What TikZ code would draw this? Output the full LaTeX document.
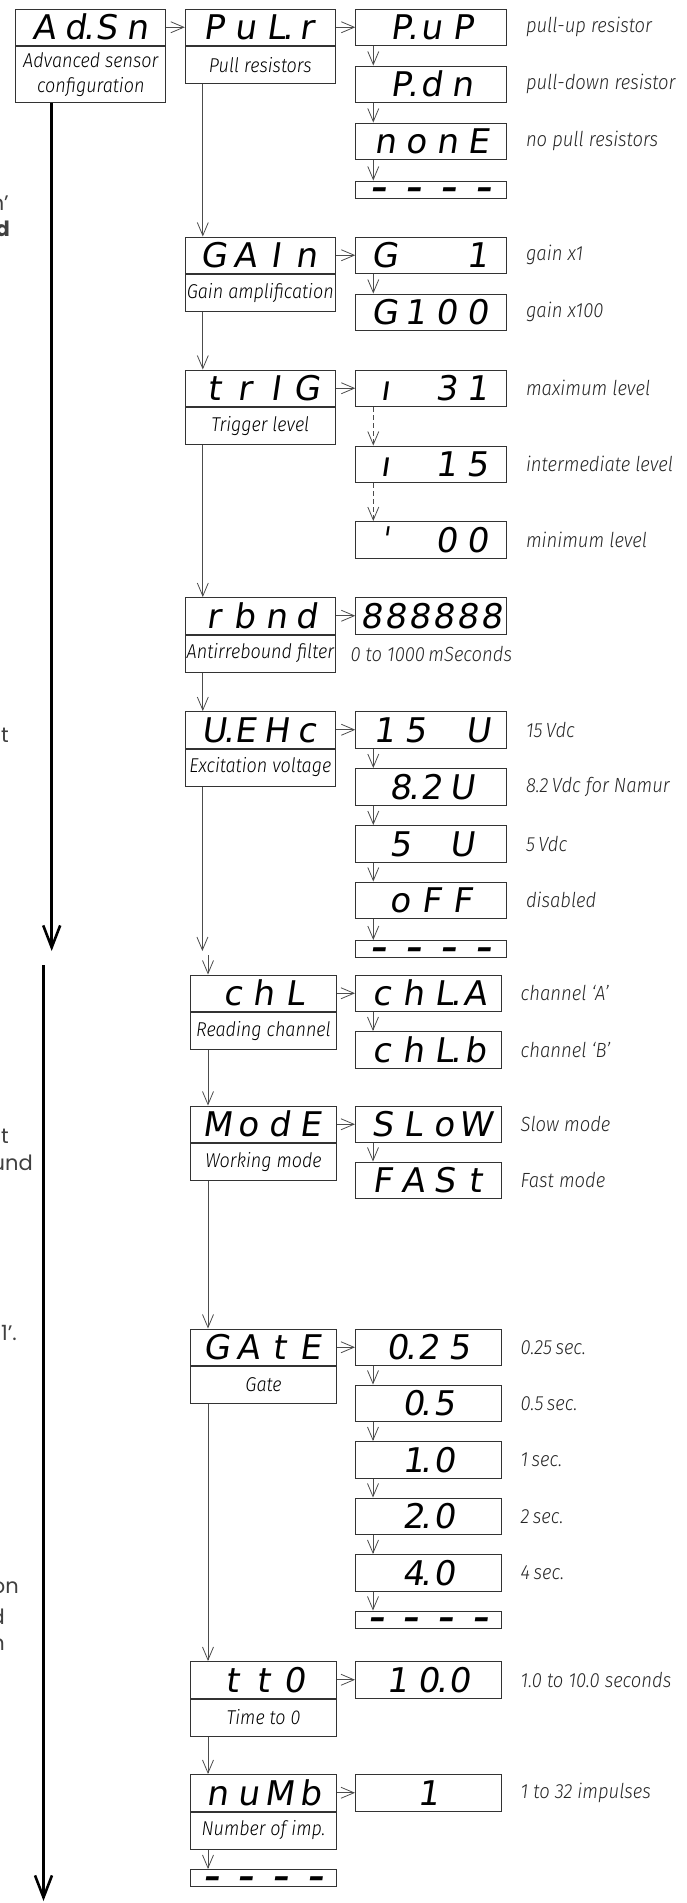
\documentclass[tikz,border=0pt]{standalone}
\usepackage{fontspec}
\usepackage{tikz}
\usetikzlibrary{arrows.meta, positioning}

\newfontfamily\segfont[FakeSlant=0.15]{DejaVu Sans}
\IfFontExistsTF{Fira Sans Light}
  {\newfontfamily\txtfont[FakeStretch=0.9]{Fira Sans Light}}
  {\newfontfamily\txtfont[FakeStretch=0.9]{Fira Sans}}
\newfontfamily\pagefont{Poppins}

\newlength{\celw}
\setlength{\celw}{31pt}
\newcommand{\cel}[1]{\makebox[\celw][c]{#1}}
\newcommand{\segdot}{\rlap{\kern-3pt.}}
\newcommand{\dashrow}{\raisebox{-9pt}{\bfseries\makebox[35pt]{\textendash}\makebox[35pt]{\textendash}\makebox[35pt]{\textendash}\makebox[35pt]{\textendash}}}

\begin{document}
\begin{tikzpicture}[
  every node/.style={inner sep=0pt},
  disp/.style={draw=black!80, line width=1pt, minimum width=150pt, minimum height=36.5pt, text height=25pt, text depth=0pt, font=\segfont\fontsize{34pt}{34pt}\selectfont},
  desc/.style={draw=black!80, line width=1pt, minimum width=150pt, minimum height=37pt, align=center, font=\txtfont\itshape\fontsize{20pt}{25pt}\selectfont},
  dashbox/.style={disp, minimum height=17pt, text height=0pt, text depth=0pt, font=\segfont\fontsize{32pt}{32pt}\selectfont},
  narrow/.style={minimum width=146pt},
  wide/.style={minimum width=151pt},
  note/.style={anchor=west, text=black!85, font=\txtfont\itshape\fontsize{20.5pt}{24pt}\selectfont},
  arr/.style={draw=black!70, line width=0.8pt, -{Straight Barb[length=13pt, width=11pt]}},
  dotarr/.style={arr, dash pattern=on 5pt off 3pt},
  bigarr/.style={line width=2.6pt, -{Straight Barb[length=22pt, width=17pt]}},
  frag/.style={anchor=east, text=black!75, font=\pagefont\fontsize{21pt}{24pt}\selectfont},
]
 \useasboundingbox (0pt,0pt) rectangle (687pt,-1903pt);

 % ---- Advanced sensor menu ----
 \node[disp, anchor=north west] (adsn) at (15.3pt,-8.5pt) {\cel{A}\cel{d\segdot}\cel{S}\cel{n}};
 \node[desc, below=0pt of adsn, minimum height=56pt] (adsnd) {Advanced sensor\\configuration};

 % ---- Pull resistors ----
 \node[disp, right=18.5pt of adsn] (pulr) {\cel{P}\cel{u}\cel{L\segdot}\cel{r}};
 \node[desc, below=0pt of pulr] (pulrd) {Pull resistors};
 \node[disp, wide, right=19.5pt of pulr] (pup) {\cel{P\segdot}\cel{u}\cel{P}};
 \node[disp, wide, below=19.5pt of pup] (pdn) {\cel{P\segdot}\cel{d}\cel{n}};
 \node[disp, wide, below=19.5pt of pdn] (none) {\cel{n}\cel{o}\cel{n}\cel{E}};
 \node[dashbox, wide, below=20.5pt of none] (pulrx) {\dashrow};
 \node[note, right=18.5pt of pup] (pupt) {pull-up resistor};
 \node[note, right=18.5pt of pdn] (pdnt) {pull-down resistor};
 \node[note, right=18.5pt of none] (nonet) {no pull resistors};

 % ---- Gain ----
 \node[disp, below=152.5pt of pulrd] (gain) {\cel{G}\cel{A}\cel{I}\cel{n}};
 \node[desc, below=0pt of gain] (gaind) {Gain amplification};
 \node[disp, wide, right=19.5pt of gain] (gx1) {\cel{G}\cel{}\cel{}\cel{1}};
 \node[disp, wide, below=19.5pt of gx1] (gx100) {\cel{G}\cel{1}\cel{0}\cel{0}};
 \node[note, right=18.5pt of gx1] (gx1t) {gain x1};
 \node[note, right=18.5pt of gx100] (gx100t) {gain x100};

 % ---- Trigger level ----
 \node[disp, below=57.5pt of gaind] (trig) {\cel{t}\cel{r}\cel{I}\cel{G}};
 \node[desc, below=0pt of trig] (trigd) {Trigger level};
 \node[disp, wide, right=19.5pt of trig] (lv31) {\cel{ı}\cel{}\cel{3}\cel{1}};
 \node[disp, wide, below=38.5pt of lv31] (lv15) {\cel{ı}\cel{}\cel{1}\cel{5}};
 \node[disp, wide, below=38pt of lv15] (lv00) {\cel{ˈ}\cel{}\cel{0}\cel{0}};
 \node[note, right=18.5pt of lv31] (lv31t) {maximum level};
 \node[note, right=18.5pt of lv15] (lv15t) {intermediate level};
 \node[note, right=18.5pt of lv00] (lv00t) {minimum level};

 % ---- Antirrebound ----
 \node[disp, below=152pt of trigd] (rbnd) {\cel{r}\cel{b}\cel{n}\cel{d}};
 \node[desc, below=0pt of rbnd] (rbndd) {Antirrebound filter};
 \node[disp, wide, right=19.5pt of rbnd] (rbval) {\makebox[24pt]{8}\makebox[24pt]{8}\makebox[24pt]{8}\makebox[24pt]{8}\makebox[24pt]{8}\makebox[24pt]{8}};
 \node[note, anchor=north, below=12pt of rbval] (rbvalt) {0 to 1000\,mSeconds};

 % ---- Excitation voltage ----
 \node[disp, below=38.5pt of rbndd] (uehc) {\cel{U\segdot}\cel{E}\cel{H}\cel{c}};
 \node[desc, below=0pt of uehc] (uehcd) {Excitation voltage};
 \node[disp, wide, right=19.5pt of uehc] (v15) {\cel{1}\cel{5}\cel{}\cel{U}};
 \node[disp, wide, below=19.5pt of v15] (v82) {\cel{8\segdot}\cel{2}\cel{U}};
 \node[disp, wide, below=19.5pt of v82] (v5) {\cel{5}\cel{}\cel{U}};
 \node[disp, wide, below=19pt of v5] (voff) {\cel{o}\cel{F}\cel{F}};
 \node[dashbox, wide, below=21pt of voff] (uehcx) {\dashrow};
 \node[note, right=18.5pt of v15] (v15t) {15\,Vdc};
 \node[note, right=18.5pt of v82] (v82t) {8.2\,Vdc for Namur};
 \node[note, right=18.5pt of v5] (v5t) {5\,Vdc};
 \node[note, right=18.5pt of voff] (vofft) {disabled};

 % ---- Reading channel ----
 \node[disp, narrow, anchor=north west] (chl) at (190pt,-974.5pt) {\cel{c}\cel{h}\cel{L}};
 \node[desc, narrow, below=0pt of chl] (chld) {Reading channel};
 \node[disp, narrow, right=18pt of chl] (chla) {\cel{c}\cel{h}\cel{L\segdot}\cel{A}};
 \node[disp, narrow, below=19pt of chla] (chlb) {\cel{c}\cel{h}\cel{L\segdot}\cel{b}};
 \node[note, right=18.5pt of chla] (chlat) {channel ‘A’};
 \node[note, right=18.5pt of chlb] (chlbt) {channel ‘B’};

 % ---- Working mode ----
 \node[disp, narrow, below=55.5pt of chld] (mode) {\cel{M}\cel{o}\cel{d}\cel{E}};
 \node[desc, narrow, below=0pt of mode] (moded) {Working mode};
 \node[disp, narrow, right=18pt of mode] (slow) {\cel{S}\cel{L}\cel{o}\cel{W}};
 \node[disp, narrow, below=18.5pt of slow] (fast) {\cel{F}\cel{A}\cel{S}\cel{t}};
 \node[note, right=18.5pt of slow] (slowt) {Slow mode};
 \node[note, right=18.5pt of fast] (fastt) {Fast mode};

 % ---- Gate ----
 \node[disp, narrow, below=147.5pt of moded] (gate) {\cel{G}\cel{A}\cel{t}\cel{E}};
 \node[desc, narrow, below=0pt of gate] (gated) {Gate};
 \node[disp, narrow, right=18pt of gate] (g025) {\cel{0\segdot}\cel{2}\cel{5}};
 \node[disp, narrow, below=18.5pt of g025] (g05) {\cel{0\segdot}\cel{5}};
 \node[disp, narrow, below=19pt of g05] (g10) {\cel{1\segdot}\cel{0}};
 \node[disp, narrow, below=19pt of g10] (g20) {\cel{2\segdot}\cel{0}};
 \node[disp, narrow, below=19pt of g20] (g40) {\cel{4\segdot}\cel{0}};
 \node[dashbox, narrow, below=19pt of g40] (gatex) {\dashrow};
 \node[note, right=18.5pt of g025] (g025t) {0.25\,sec.};
 \node[note, right=18.5pt of g05] (g05t) {0.5\,sec.};
 \node[note, right=18.5pt of g10] (g10t) {1\,sec.};
 \node[note, right=18.5pt of g20] (g20t) {2\,sec.};
 \node[note, right=18.5pt of g40] (g40t) {4\,sec.};

 % ---- Time to 0 ----
 \node[disp, narrow, below=257pt of gated] (tt0) {\cel{t}\cel{t}\cel{0}};
 \node[desc, narrow, below=0pt of tt0] (tt0d) {Time to 0};
 \node[disp, narrow, right=18pt of tt0] (tt0v) {\cel{1}\cel{0\segdot}\cel{0}};
 \node[note, right=18.5pt of tt0v] (tt0vt) {1.0 to 10.0 seconds};

 % ---- Number of impulses ----
 \node[disp, narrow, below=37.5pt of tt0d] (numb) {\cel{n}\cel{u}\cel{M}\cel{b}};
 \node[desc, narrow, below=0pt of numb] (numbd) {Number of imp.};
 \node[disp, narrow, right=18pt of numb] (numbv) {\cel{1}};
 \node[note, right=18.5pt of numbv] (numbvt) {1 to 32 impulses};
 \node[dashbox, narrow, below=19.5pt of numbd] (numbx) {\dashrow};

 % ---- horizontal arrows ----
 \draw[arr] (adsn.east) -- (pulr.west);
 \draw[arr] (pulr.east) -- (pup.west);
 \draw[arr] (gain.east) -- (gx1.west);
 \draw[arr] (trig.east) -- (lv31.west);
 \draw[arr] (rbnd.east) -- (rbval.west);
 \draw[arr] (uehc.east) -- (v15.west);
 \draw[arr] (chl.east) -- (chla.west);
 \draw[arr] (mode.east) -- (slow.west);
 \draw[arr] (gate.east) -- (g025.west);
 \draw[arr] (tt0.east) -- (tt0v.west);
 \draw[arr] (numb.east) -- (numbv.west);

 % ---- option lists ----
 \draw[arr] ([xshift=18pt]pup.south west) -- ([xshift=18pt]pdn.north west);
 \draw[arr] ([xshift=18pt]pdn.south west) -- ([xshift=18pt]none.north west);
 \draw[arr] ([xshift=18pt]none.south west) -- ([xshift=18pt]pulrx.north west);
 \draw[arr] ([xshift=18pt]gx1.south west) -- ([xshift=18pt]gx100.north west);
 \draw[dotarr] ([xshift=18pt]lv31.south west) -- ([xshift=18pt]lv15.north west);
 \draw[dotarr] ([xshift=18pt]lv15.south west) -- ([xshift=18pt]lv00.north west);
 \draw[arr] ([xshift=18pt]v15.south west) -- ([xshift=18pt]v82.north west);
 \draw[arr] ([xshift=18pt]v82.south west) -- ([xshift=18pt]v5.north west);
 \draw[arr] ([xshift=18pt]v5.south west) -- ([xshift=18pt]voff.north west);
 \draw[arr] ([xshift=18pt]voff.south west) -- ([xshift=18pt]uehcx.north west);
 \draw[arr] ([xshift=18pt]chla.south west) -- ([xshift=18pt]chlb.north west);
 \draw[arr] ([xshift=18pt]slow.south west) -- ([xshift=18pt]fast.north west);
 \draw[arr] ([xshift=18pt]g025.south west) -- ([xshift=18pt]g05.north west);
 \draw[arr] ([xshift=18pt]g05.south west) -- ([xshift=18pt]g10.north west);
 \draw[arr] ([xshift=18pt]g10.south west) -- ([xshift=18pt]g20.north west);
 \draw[arr] ([xshift=18pt]g20.south west) -- ([xshift=18pt]g40.north west);
 \draw[arr] ([xshift=18pt]g40.south west) -- ([xshift=18pt]gatex.north west);

 % ---- main column ----
 \draw[arr] ([xshift=18pt]pulrd.south west) -- ([xshift=18pt]gain.north west);
 \draw[arr] ([xshift=18pt]gaind.south west) -- ([xshift=18pt]trig.north west);
 \draw[arr] ([xshift=18pt]trigd.south west) -- ([xshift=18pt]rbnd.north west);
 \draw[arr] ([xshift=18pt]rbndd.south west) -- ([xshift=18pt]uehc.north west);
 \coordinate (brkC) at (202.4pt,-951pt);
 \draw[arr] (uehcd.south -| brkC) -- (brkC);
 \coordinate (brkD) at (208pt,-955pt);
 \draw[arr] (brkD) -- (chl.north -| brkD);
 \draw[arr] ([xshift=18pt]chld.south west) -- ([xshift=18pt]mode.north west);
 \draw[arr] ([xshift=18pt]moded.south west) -- ([xshift=18pt]gate.north west);
 \draw[arr] ([xshift=18pt]gated.south west) -- ([xshift=18pt]tt0.north west);
 \draw[arr] ([xshift=18pt]tt0d.south west) -- ([xshift=18pt]numb.north west);
 \draw[arr] ([xshift=18pt]numbd.south west) -- ([xshift=18pt]numbx.north west);

 % ---- thick arrows on the left ----
 \coordinate (brkA) at (51.7pt,-951pt);
 \draw[bigarr] (adsnd.south -| brkA) -- (brkA);
 \coordinate (brkB) at (43.5pt,-965pt);
 \coordinate (endB) at (43.5pt,-1901pt);
 \draw[bigarr] (brkB) -- (endB);

 % ---- cut text of the next page ----
 \begin{scope}
  \clip (0pt,0pt) rectangle (687pt,-1903pt);
  \node[frag] (fa) at (9pt,-203pt) {n’};
  \node[frag] (fb) at (10pt,-229pt) {\bfseries d};
  \node[frag] (fc) at (9pt,-735pt) {ct};
  \node[frag] (fd) at (9pt,-1136pt) {lt};
  \node[frag] (fe) at (33pt,-1163pt) {und};
  \node[frag] (ff) at (17pt,-1333pt) {1’.};
  \node[frag] (fg) at (19pt,-1588pt) {on};
  \node[frag] (fh) at (5pt,-1617pt) {d};
  \node[frag] (fi) at (5pt,-1645pt) {n};
 \end{scope}

\end{tikzpicture}
\end{document}
